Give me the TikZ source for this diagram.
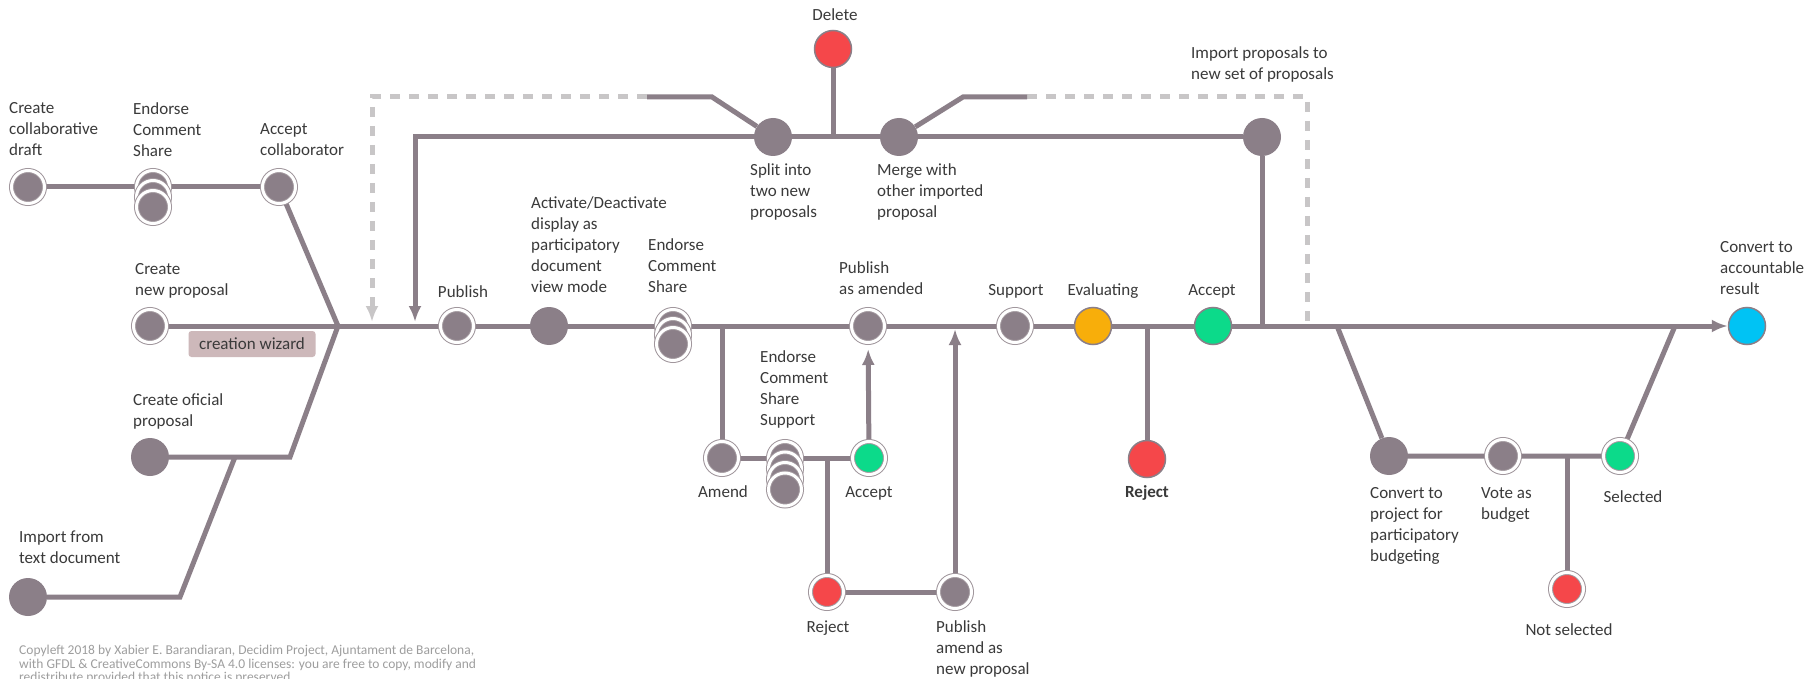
\documentclass[tikz,border=0pt]{standalone}
\usepackage{fontspec}
\setmainfont{Carlito}
\usetikzlibrary{arrows.meta,backgrounds}
\definecolor{lg}{HTML}{8B7F88}
\definecolor{ringgray}{HTML}{A0969C}
\definecolor{txt}{HTML}{3A3A3A}
\definecolor{dashgray}{HTML}{C8C6C7}
\definecolor{nred}{HTML}{F5474A}
\definecolor{ngreen}{HTML}{0CDA8A}
\definecolor{norange}{HTML}{F8AE0A}
\definecolor{nblue}{HTML}{00C3F4}
\definecolor{wizard}{HTML}{CDB8BA}
\definecolor{copygray}{HTML}{9E9E9E}
\begin{document}
\begin{tikzpicture}[x=1pt,y=-1pt,
  lbl/.style={font=\fontsize{17}{21}\selectfont, text=txt, inner sep=0pt, align=left, anchor=north west},
  clbl/.style={font=\fontsize{17}{21}\selectfont, text=txt, inner sep=0pt, anchor=base},
  plain/.style={circle, fill=lg, minimum size=38pt, inner sep=0pt},
  ringn/.style={circle, fill=#1, draw=ringgray, line width=1pt, double=white, double distance=3pt, minimum size=33pt, inner sep=0pt},
  ringn/.default=lg,
  coln/.style={circle, fill=#1, draw=lg, line width=1.5pt, minimum size=37pt, inner sep=0pt},
  conn/.style={draw=lg, line width=5pt},
  tip/.style={-{Latex[length=16pt,width=13pt]}},
  dashl/.style={draw=dashgray, line width=5pt, dash pattern=on 10pt off 9pt},
  dtip/.style={-{Latex[length=16pt,width=13pt,color=dashgray]}},
]
\useasboundingbox (0,0) rectangle (1810,679);

% ---------- nodes ----------
\node[ringn] (draft) at (28,187) {};
\node[ringn] (st1a) at (153,187) {};
\node[ringn] (st1b) at (153,197) {};
\node[ringn] (st1c) at (153,207) {};
\node[ringn] (acol) at (279,187) {};
\node[ringn] (newp) at (150,326) {};
\node[plain] (ofi) at (150,457) {};
\node[plain] (imptxt) at (28,597) {};
\node[ringn] (pub) at (457,326) {};
\node[plain] (act) at (549,326) {};
\node[ringn] (st2a) at (673,326) {};
\node[ringn] (st2b) at (673,335) {};
\node[ringn] (st2c) at (673,344) {};
\node[ringn] (pubam) at (868,326) {};
\node[ringn] (sup) at (1015,326) {};
\node[coln=norange] (eval) at (1093,326) {};
\node[coln=ngreen] (acc) at (1213,326) {};
\node[coln=nblue] (res) at (1747,326) {};
\node[plain] (split) at (773,137) {};
\node[coln=nred] (del) at (833,49) {};
\node[plain] (merge) at (899,137) {};
\node[plain] (impt) at (1262,137) {};
\node[ringn] (amend) at (722,458) {};
\node[ringn] (st3a) at (785,458) {};
\node[ringn] (st3b) at (785,468.5) {};
\node[ringn] (st3c) at (785,479) {};
\node[ringn] (st3d) at (785,489.5) {};
\node[ringn=ngreen] (acc2) at (869,458) {};
\node[ringn=nred] (rej2) at (827,592) {};
\node[ringn] (pubnew) at (955,592) {};
\node[coln=nred] (rej) at (1147,459) {};
\node[plain] (conv) at (1389,456) {};
\node[ringn] (vote) at (1503,456) {};
\node[ringn=ngreen] (sel) at (1620,456) {};
\node[ringn=nred] (nsel) at (1567,589) {};

\node[fill=wizard, rounded corners=3pt, minimum width=127pt, minimum height=26pt, inner sep=0pt,
      font=\fontsize{17}{21}\selectfont, text=txt] (wiz) at (252,344) {creation wizard};

% ---------- junction coordinates ----------
\coordinate (J) at (338,326);
\coordinate (ofiK) at (290,457);
\coordinate (txtK) at (180,597);
\coordinate (txtL) at (235,457);
\coordinate (retC) at (415,137);
\coordinate (retE) at (415,322);
\coordinate (spA) at (712,97);
\coordinate (spB) at (647,97);
\coordinate (dsC) at (372,97);
\coordinate (dsE) at (372,322);
\coordinate (mgA) at (963,97);
\coordinate (mgB) at (1027,97);
\coordinate (dmC) at (1307,97);
\coordinate (dmE) at (1307,324);
\coordinate (delJ) at (833,137);
\coordinate (impJ) at (1262,326);
\coordinate (amJ) at (722,326);
\coordinate (rjJ) at (827,458);
\coordinate (pnE) at (955,329);
\coordinate (rjmJ) at (1147,326);
\coordinate (bgA) at (1337,326);
\coordinate (bgB) at (1675,326);
\coordinate (nsJ) at (1567,456);

% ---------- connectors ----------
\begin{pgfonlayer}{background}
\fill[white] (0,0) rectangle (1810,679);
\draw[dashl,dtip] (spB) -- (dsC) -- (dsE);
\draw[dashl] (mgB) -- (dmC) -- (dmE);
\draw[conn] (draft) -- (acol);
\draw[conn] (acol) -- (J);
\draw[conn,tip] (newp) -- (res);
\draw[conn] (ofi) -- (ofiK) -- (J);
\draw[conn] (imptxt) -- (txtK) -- (txtL);
\draw[conn] (split) -- (spA) -- (spB);
\draw[conn] (merge) -- (mgA) -- (mgB);
\draw[conn,tip] (impt) -- (retC) -- (retE);
\draw[conn] (del) -- (delJ);
\draw[conn] (impt) -- (impJ);
\draw[conn] (amJ) -- (amend) -- (acc2);
\draw[conn,tip,shorten >=6pt] (acc2) -- (pubam);
\draw[conn] (rjJ) -- (rej2) -- (pubnew);
\draw[conn,tip] (pubnew) -- (pnE);
\draw[conn] (rjmJ) -- (rej);
\draw[conn] (bgA) -- (conv) -- (sel) -- (bgB);
\draw[conn] (nsJ) -- (nsel);
\end{pgfonlayer}

% ---------- labels ----------
\node[lbl] (l-draft) at (9,102) {Create\\collaborative\\draft};
\node[lbl] (l-st1) at (133,102) {Endorse\\Comment\\Share};
\node[lbl] (l-acol) at (260,123) {Accept\\collaborator};
\node[lbl] (l-newp) at (135,263) {Create\\new proposal};
\node[lbl] (l-ofi) at (133,393) {Create oficial\\proposal};
\node[lbl] (l-imptxt) at (19,531) {Import from\\text document};
\node[lbl] (l-act) at (531,196) {Activate/Deactivate\\display as\\participatory\\document\\view mode};
\node[lbl] (l-st2) at (648,238) {Endorse\\Comment\\Share};
\node[lbl] (l-split) at (750,163) {Split into\\two new\\proposals};
\node[lbl] (l-merge) at (877,163) {Merge with\\other imported\\proposal};
\node[lbl] (l-impt) at (1191,46) {Import proposals to\\new set of proposals};
\node[lbl] (l-pubam) at (839,261) {Publish\\as amended};
\node[lbl] (l-res) at (1720,241) {Convert to\\accountable\\result};
\node[lbl] (l-st3) at (760,350) {Endorse\\Comment\\Share\\Support};
\node[lbl] (l-pubnew) at (936,620) {Publish\\amend as\\new proposal};
\node[lbl] (l-conv) at (1370,487) {Convert to\\project for\\participatory\\budgeting};
\node[lbl] (l-vote) at (1481,487) {Vote as\\budget};

\node[clbl] (l-pub) at (463,297.5) {Publish};
\node[clbl] (l-del) at (835,20.5) {Delete};
\node[clbl] (l-sup) at (1016,295.5) {Support};
\node[clbl] (l-eval) at (1103,295.5) {Evaluating};
\node[clbl] (l-acc) at (1212,295.5) {Accept};
\node[clbl] (l-amend) at (723,497.5) {Amend};
\node[clbl] (l-acc2) at (869,497.5) {Accept};
\node[clbl] (l-rej2) at (828,632.5) {Reject};
\node[clbl, font=\fontsize{17}{21}\selectfont\bfseries] (l-rej) at (1147,497.5) {Reject};
\node[clbl] (l-sel) at (1633,502.5) {Selected};
\node[clbl] (l-nsel) at (1569,635.5) {Not selected};

\node[font=\fontsize{13.5}{13.6}\selectfont, text=copygray, inner sep=0pt, align=left, anchor=north west] (copy) at (19,645)
 {Copyleft 2018 by Xabier E. Barandiaran, Decidim Project, Ajuntament de Barcelona,\\with GFDL \& CreativeCommons By-SA 4.0 licenses: you are free to copy, modify and\\redistribute provided that this notice is preserved.};
\end{tikzpicture}
\end{document}
